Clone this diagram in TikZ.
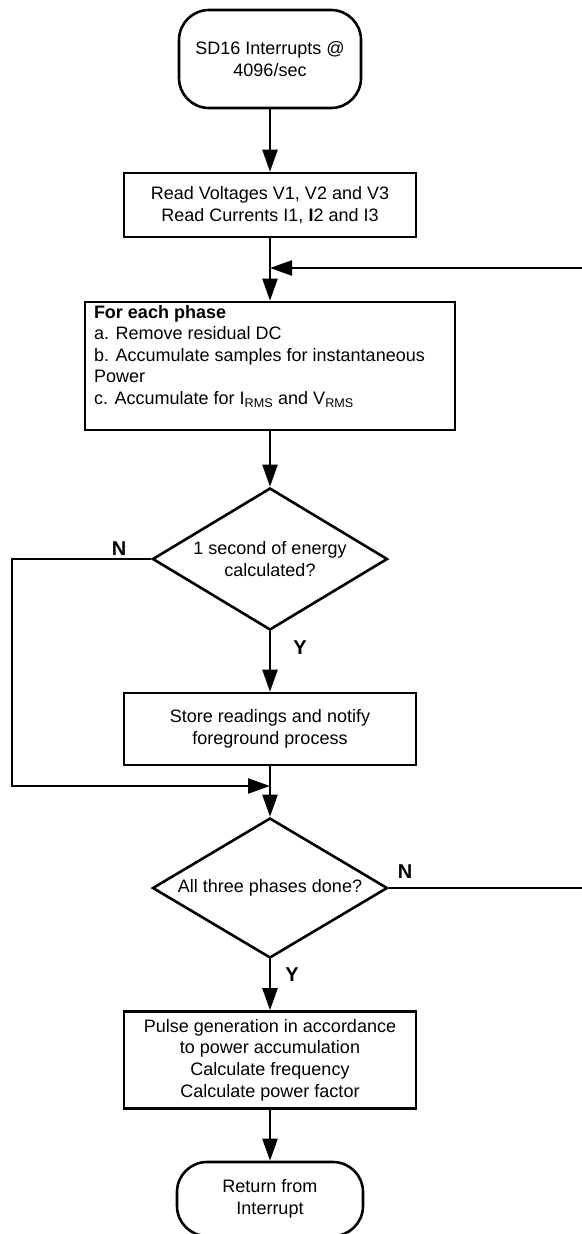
\documentclass[tikz,border=0pt]{standalone}
\usepackage{fontspec}
\setmainfont{Liberation Sans}
\usetikzlibrary{shapes.geometric,arrows.meta}

\begin{document}
\begin{tikzpicture}[x=1pt, y=-1pt,
    every node/.style={font=\fontsize{18pt}{21.6pt}\selectfont},
    term/.style={draw, line width=2.6pt, rounded corners=30pt, align=center},
    proc/.style={draw, line width=2.6pt, align=center},
    decision/.style={draw, diamond, line width=2.6pt, aspect=1.65, inner sep=0pt, align=center},
    yn/.style={font=\fontsize{20pt}{24pt}\selectfont\bfseries},
    arr/.style={line width=2.3pt, -{Triangle[length=22pt,width=15pt]}}]
    \useasboundingbox (0,0) rectangle (581,1234);

    % Start of interrupt
    \node[term, minimum width=182pt, minimum height=98pt] (start) at (270,59) {SD16 Interrupts @\\4096/sec};

    % Read samples
    \node[proc, minimum width=292pt, minimum height=64pt] (read) at (270,205) {Read Voltages V1, V2 and V3\\Read Currents I1, {\bfseries I}2 and I3};

    % Per phase processing
    \node[proc, minimum width=370pt, minimum height=128pt, inner xsep=9pt, inner ysep=3pt] (phase) at (270,366)
        {\parbox[c][122pt][t]{352pt}{\raggedright\textbf{For each phase}\\a. Remove residual DC\\b. Accumulate samples for instantaneous\\Power\\c. Accumulate for I\textsubscript{RMS} and V\textsubscript{RMS}}};

    % 1 second check
    \node[decision, minimum width=235pt, minimum height=142pt] (sec) at (270,559) {1 second of energy\\calculated?};
    \node[yn] (n1) at (119,549) {N};
    \node[yn] (y1) at (300,648) {Y};

    % Store readings
    \node[proc, minimum width=292pt, minimum height=72pt] (store) at (270,729) {Store readings and notify\\foreground process};

    % All phases check
    \node[decision, minimum width=235pt, minimum height=140pt] (done) at (270,888) {All three phases done?};
    \node[yn] (n2) at (405,872) {N};
    \node[yn] (y2) at (292,975) {Y};

    % Pulse generation
    \node[proc, minimum width=292pt, minimum height=97pt] (pulse) at (270,1060) {Pulse generation in accordance\\to power accumulation\\Calculate frequency\\Calculate power factor};

    % Return
    \node[term, minimum width=186pt, minimum height=74pt] (ret) at (270,1199) {Return from\\Interrupt};

    % Join points
    \coordinate (loopin) at (270,268);
    \coordinate (skipin) at (270,786);
    \coordinate (skipcorner) at (12,559);
    \coordinate (loopcorner) at (600,888);

    % Main flow
    \draw[arr] (start) -- (read);
    \draw[arr] (read) -- (phase);
    \draw[arr] (phase) -- (sec);
    \draw[arr] (sec) -- (store);
    \draw[arr] (store) -- (done);
    \draw[arr] (done) -- (pulse);
    \draw[arr] (pulse) -- (ret);

    % N branches
    \draw[arr] (sec.west) -- (skipcorner) |- (skipin);
    \draw[arr] (done.east) -- (loopcorner) |- (loopin);

\end{tikzpicture}
\end{document}
